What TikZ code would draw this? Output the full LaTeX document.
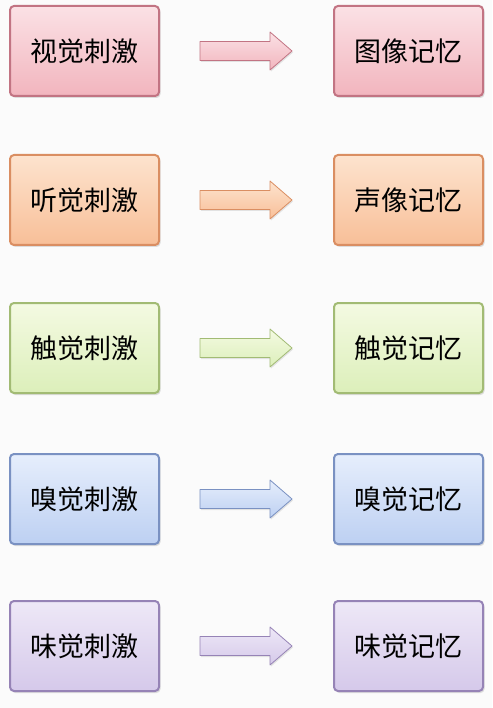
\documentclass[tikz,border=0pt]{standalone}
\usepackage{fontspec}
\newfontfamily\cjk{Noto Sans CJK SC}
\usetikzlibrary{shadows}
\definecolor{pkT}{HTML}{FBE1E5}\definecolor{pkB}{HTML}{F2B5BE}\definecolor{pkD}{HTML}{C27483}
\definecolor{orT}{HTML}{FDE3CE}\definecolor{orB}{HTML}{F8BF98}\definecolor{orD}{HTML}{DA8E62}
\definecolor{grT}{HTML}{F4FAE2}\definecolor{grB}{HTML}{DCEFBA}\definecolor{grD}{HTML}{A2BB74}
\definecolor{blT}{HTML}{E6EEFC}\definecolor{blB}{HTML}{BDD0F2}\definecolor{blD}{HTML}{7A91C2}
\definecolor{puT}{HTML}{EEE8F7}\definecolor{puB}{HTML}{D5C9EA}\definecolor{puD}{HTML}{9683B6}
\tikzset{
  box/.style={rounded corners=4pt, line width=2pt, minimum width=149pt, minimum height=90pt,
    font=\cjk\fontsize{27}{32}\selectfont, text=black,
    drop shadow={shadow xshift=1.5pt, shadow yshift=-2pt, opacity=0.25}},
  arr/.style={line width=0.8pt, line join=round,
    drop shadow={shadow xshift=1pt, shadow yshift=-1.5pt, opacity=0.2}},
  pk/.style={draw=pkD, top color=pkT, bottom color=pkB},
  or/.style={draw=orD, top color=orT, bottom color=orB},
  gr/.style={draw=grD, top color=grT, bottom color=grB},
  bl/.style={draw=blD, top color=blT, bottom color=blB},
  pu/.style={draw=puD, top color=puT, bottom color=puB},
}
\begin{document}
\begin{tikzpicture}[x=1pt,y=-1pt]
\useasboundingbox[fill=white!97!gray] (0,0) rectangle (492,708);
\foreach \st/\a/\b/\y [count=\i] in {pk/视觉刺激/图像记忆/51, or/听觉刺激/声像记忆/200, gr/触觉刺激/触觉记忆/348, bl/嗅觉刺激/嗅觉记忆/499, pu/味觉刺激/味觉记忆/646}{
  \node[box,\st] (L\i) at (84.5,\y) {\a};
  \node[box,\st] (R\i) at (408.5,\y) {\b};
  \coordinate (A\i) at (200,\y);
  \draw[arr,\st] ([yshift=9.5pt]A\i) -- ++(70,0) -- ++(0,-9.5) -- ++(22,19)
     -- ++(-22,19) -- ++(0,-9.5) -- ++(-70,0) -- cycle;
}
\end{tikzpicture}
\end{document}
